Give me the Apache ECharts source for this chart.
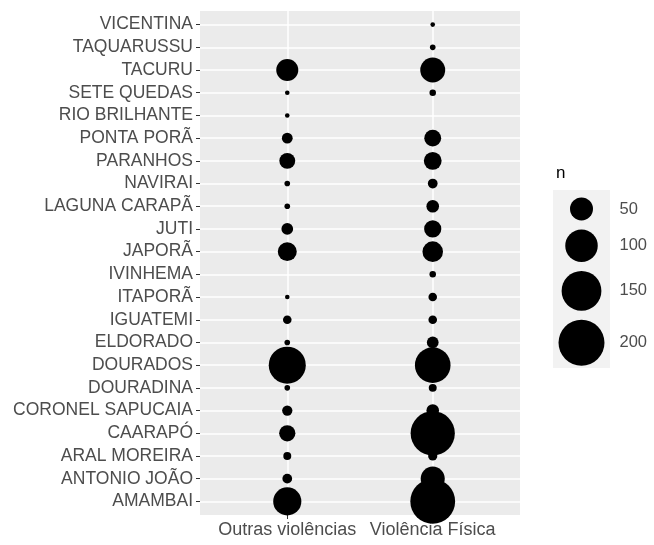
<!DOCTYPE html>
<html>
<head>
<meta charset="utf-8">
<script src="https://cdn.jsdelivr.net/npm/echarts@6/dist/echarts.min.js"></script>
<style>html,body{margin:0;padding:0;background:#fff}#c{width:654px;height:545px}</style>
</head>
<body>
<div id="c"></div>
<script>
// categories, bottom to top
var municipios = ["AMAMBAI","ANTONIO JOÃO","ARAL MOREIRA","CAARAPÓ","CORONEL SAPUCAIA","DOURADINA","DOURADOS","ELDORADO","IGUATEMI","ITAPORÃ","IVINHEMA","JAPORÃ","JUTI","LAGUNA CARAPÃ","NAVIRAI","PARANHOS","PONTA PORÃ","RIO BRILHANTE","SETE QUEDAS","TACURU","TAQUARUSSU","VICENTINA"];
var tipos = ["Outras violências","Violência Física"];
var outras = [75,9,6,25,10,3,130,3,7,2,null,34,13,3,3,24,11,2,2,46,null,null];
var fisica = [190,55,8,185,15,6,120,13,7,7,4,40,28,15,9,30,27,null,4,59,3,2];
var legendValues = [50,100,150,200];
var legendTitle = "n";

function sz(n){ return 3.25*Math.sqrt(n); }
function pts(arr, xi){
  var out=[];
  arr.forEach(function(v,i){ if(v!=null) out.push([xi+1, i+1, v]); });
  return out;
}
var yIdx = municipios.map(function(_,i){return i+1;});
var xIdx = tipos.map(function(_,i){return i+1;});

// legend layout computed from sizes
var pad = 7.5, gap = 9, keyY = [], prev = null;
legendValues.forEach(function(v,i){
  var h = Math.max(sz(v),17);
  if(i===0) keyY.push(pad + h/2);
  else keyY.push(keyY[i-1] + (prev + h)/2 + gap);
  prev = h;
});
var legData = legendValues.map(function(v,i){
  return {value:[0.5, keyY[i], v], label:{distance: 38 - sz(v)/2}};
});

var gridLines = [];
yIdx.forEach(function(y){ gridLines.push({yAxis:y}); });
xIdx.forEach(function(x){ gridLines.push({xAxis:x}); });

var chart = echarts.init(document.getElementById('c'), null, {renderer:'canvas'});
chart.setOption({
  animation:false,
  title:{text:legendTitle,left:551,top:160,textStyle:{fontFamily:'Liberation Sans',fontSize:17,fontWeight:'normal',color:'#000'}},
  grid:[
    {left:200,top:11,width:320,height:504,show:true,backgroundColor:'#EBEBEB',borderWidth:0},
    {left:553,top:190,width:57,height:178,show:true,backgroundColor:'#F2F2F2',borderWidth:0}
  ],
  xAxis:[
    {type:'value',gridIndex:0,min:0.4,max:2.6,
     axisLine:{show:false},splitLine:{show:false},
     axisTick:{show:true,customValues:xIdx,length:4,lineStyle:{color:'#333',width:1}},
     axisLabel:{customValues:xIdx,margin:6,fontFamily:'Liberation Sans',fontSize:18,color:'#4D4D4D',
       formatter:function(v){return tipos[Math.round(v)-1]||'';}}},
    {type:'value',gridIndex:1,min:0,max:1,show:false}
  ],
  yAxis:[
    {type:'value',gridIndex:0,min:0.4,max:22.6,
     axisLine:{show:false},splitLine:{show:false},
     axisTick:{show:true,customValues:yIdx,length:4,lineStyle:{color:'#333',width:1}},
     axisLabel:{customValues:yIdx,margin:7,fontFamily:'Liberation Sans',fontSize:17.5,color:'#4D4D4D',
       formatter:function(v){return municipios[Math.round(v)-1]||'';}}},
    {type:'value',gridIndex:1,min:0,max:178,inverse:true,show:false}
  ],
  series:[
    {type:'scatter',xAxisIndex:0,yAxisIndex:0,data:[],z:1,silent:true,
     markLine:{silent:true,symbol:'none',label:{show:false},animation:false,
       lineStyle:{color:'#FFFFFF',width:1.5,type:'solid'},data:gridLines}},
    {type:'scatter',name:tipos[0],xAxisIndex:0,yAxisIndex:0,zlevel:1,z:3,data:pts(outras,0),
     symbolSize:function(v){return sz(v[2]);},itemStyle:{color:'#000',opacity:1}},
    {type:'scatter',name:tipos[1],xAxisIndex:0,yAxisIndex:0,zlevel:1,z:3,data:pts(fisica,1),
     symbolSize:function(v){return sz(v[2]);},itemStyle:{color:'#000',opacity:1}},
    {type:'scatter',xAxisIndex:1,yAxisIndex:1,z:3,data:legData,
     symbolSize:function(v){return sz(v[2]);},itemStyle:{color:'#000',opacity:1},
     label:{show:true,position:'right',fontFamily:'Liberation Sans',fontSize:16.5,color:'#4D4D4D',
       formatter:function(p){return p.value[2];}}}
  ]
});
</script>
</body>
</html>
